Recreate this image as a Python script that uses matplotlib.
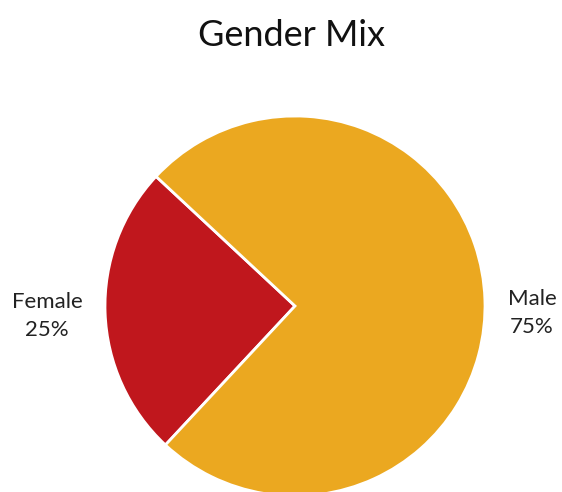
import matplotlib.pyplot as plt

# data
genders = ['Female', 'Male']
shares = [25, 75]
colors = ['#C0171D', '#EBA820']

plt.rcParams['font.family'] = ['Lato', 'DejaVu Sans']

fig = plt.figure(figsize=(5.62, 4.92), dpi=100)
ax = fig.add_axes([0, 0, 1, 1])

# pie in pixel-like coords, center near (295, 306) from top
ax.pie(shares, colors=colors, startangle=137, counterclock=True,
       center=(295, 186), radius=190,
       wedgeprops=dict(edgecolor='white', linewidth=2))
ax.set_xlim(0, 562)
ax.set_ylim(0, 492)
ax.set_aspect('equal')
ax.axis('off')

label_pos = {'Female': (47, 176), 'Male': (532, 179)}
for g, s in zip(genders, shares):
    x, y = label_pos[g]
    ax.text(x, y, f'{g}\n{s}%', ha='center', va='center', fontsize=16,
            color='#222222', linespacing=1.45)

ax.text(292, 457, 'Gender Mix', ha='center', va='center', fontsize=26,
        color='#111111')

plt.savefig('out.png', dpi=100)
plt.close()
